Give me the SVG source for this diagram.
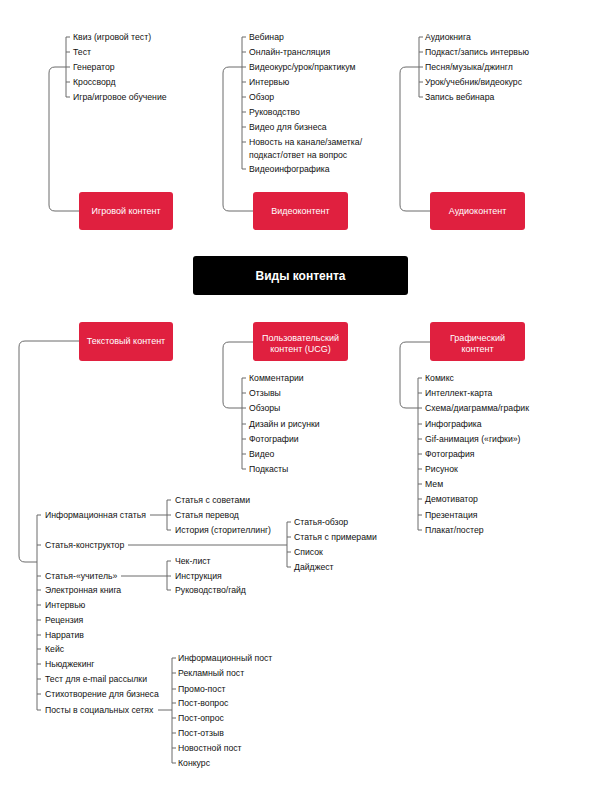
<svg xmlns="http://www.w3.org/2000/svg" width="600" height="795" viewBox="0 0 600 795">
<style>
  .bg{fill:#ffffff}
  .box{fill:#E0203F}
  .root{fill:#000000}
  .bt{font-family:"Liberation Sans",Arial,sans-serif;font-size:9px;fill:#ffffff;text-anchor:middle}
  .rt{font-family:"Liberation Sans",Arial,sans-serif;font-size:12px;font-weight:bold;fill:#ffffff;text-anchor:middle}
  .it{font-family:"Liberation Sans",Arial,sans-serif;font-size:8.7px;fill:#111111}
  .ln{fill:none;stroke:#6b6b6b;stroke-width:1}
</style>
<rect class="bg" x="0" y="0" width="600" height="795"/>

<g id="connectors">
  <path class="ln" d="M79,211 H55 Q49,211 49,205 V73 Q49,67 55,67 H66"/>
  <path class="ln" d="M253,211 H229 Q223,211 223,205 V73 Q223,67 229,67 H242"/>
  <path class="ln" d="M430,211 H406 Q400,211 400,205 V73 Q400,67 406,67 H419"/>
  <path class="ln" d="M79,341 H25 Q19,341 19,347 V556 Q19,562 25,562 H37"/>
  <path class="ln" d="M253,342 H229 Q223,342 223,348 V402 Q223,408 229,408 H242"/>
  <path class="ln" d="M430,342 H406 Q400,342 400,348 V402 Q400,408 406,408 H418"/>
  <path class="ln" d="M150,515 H167"/>
  <path class="ln" d="M128,545 H287"/>
  <path class="ln" d="M121,576 H167"/>
  <path class="ln" d="M158,710 H172"/>
</g>

<g id="root">
  <rect class="root" x="193" y="256" width="215" height="39" rx="3"/>
  <text class="rt" x="300.5" y="280">Виды контента</text>
</g>

<g id="game">
  <rect class="box" x="79" y="192" width="94" height="38" rx="3"/>
  <text class="bt" x="126" y="214">Игровой контент</text>
</g>
<g id="video">
  <rect class="box" x="253" y="192" width="95" height="38" rx="3"/>
  <text class="bt" x="300.5" y="214">Видеоконтент</text>
</g>
<g id="audio">
  <rect class="box" x="430" y="192" width="95" height="38" rx="3"/>
  <text class="bt" x="477.5" y="214">Аудиоконтент</text>
</g>
<g id="text">
  <rect class="box" x="79" y="322" width="94" height="39" rx="3"/>
  <text class="bt" x="126" y="344">Текстовый контент</text>
</g>
<g id="ucg">
  <rect class="box" x="253" y="322" width="95" height="39" rx="3"/>
  <text class="bt" x="300.5" y="341">Пользовательский</text>
  <text class="bt" x="300.5" y="352">контент (UCG)</text>
</g>
<g id="graphic">
  <rect class="box" x="430" y="322" width="95" height="39" rx="3"/>
  <text class="bt" x="477.5" y="341">Графический</text>
  <text class="bt" x="477.5" y="352">контент</text>
</g>

<g id="list-game">
  <path class="ln" d="M70,37 H66 V97 H70 M66,52 H70 M66,67 H70 M66,82 H70"/>
  <text class="it" x="73" y="40">Квиз (игровой тест)</text>
  <text class="it" x="73" y="55">Тест</text>
  <text class="it" x="73" y="70">Генератор</text>
  <text class="it" x="73" y="85">Кроссворд</text>
  <text class="it" x="73" y="100">Игра/игровое обучение</text>
</g>

<g id="list-video">
  <path class="ln" d="M246,37 H242 V169 H246 M242,52 H246 M242,67 H246 M242,82 H246 M242,97 H246 M242,112 H246 M242,127 H246 M242,142 H246"/>
  <text class="it" x="249" y="40">Вебинар</text>
  <text class="it" x="249" y="55">Онлайн-трансляция</text>
  <text class="it" x="249" y="70">Видеокурс/урок/практикум</text>
  <text class="it" x="249" y="85">Интервью</text>
  <text class="it" x="249" y="100">Обзор</text>
  <text class="it" x="249" y="115">Руководство</text>
  <text class="it" x="249" y="130">Видео для бизнеса</text>
  <text class="it" x="249" y="145">Новость на канале/заметка/</text>
  <text class="it" x="249" y="158">подкаст/ответ на вопрос</text>
  <text class="it" x="249" y="172">Видеоинфографика</text>
</g>

<g id="list-audio">
  <path class="ln" d="M423,37 H419 V97 H423 M419,52 H423 M419,67 H423 M419,82 H423"/>
  <text class="it" x="425" y="40">Аудиокнига</text>
  <text class="it" x="425" y="55">Подкаст/запись интервью</text>
  <text class="it" x="425" y="70">Песня/музыка/джингл</text>
  <text class="it" x="425" y="85">Урок/учебник/видеокурс</text>
  <text class="it" x="425" y="100">Запись вебинара</text>
</g>

<g id="list-ucg">
  <path class="ln" d="M246,378 H242 V469 H246 M242,393 H246 M242,408 H246 M242,424 H246 M242,439 H246 M242,454 H246"/>
  <text class="it" x="249" y="381">Комментарии</text>
  <text class="it" x="249" y="396">Отзывы</text>
  <text class="it" x="249" y="411">Обзоры</text>
  <text class="it" x="249" y="427">Дизайн и рисунки</text>
  <text class="it" x="249" y="442">Фотографии</text>
  <text class="it" x="249" y="457">Видео</text>
  <text class="it" x="249" y="472">Подкасты</text>
</g>

<g id="list-graphic">
  <path class="ln" d="M422,378 H418 V530 H422 M418,393 H422 M418,408 H422 M418,424 H422 M418,439 H422 M418,454 H422 M418,469 H422 M418,484 H422 M418,499 H422 M418,515 H422"/>
  <text class="it" x="425" y="381">Комикс</text>
  <text class="it" x="425" y="396">Интеллект-карта</text>
  <text class="it" x="425" y="411">Схема/диаграмма/график</text>
  <text class="it" x="425" y="427">Инфографика</text>
  <text class="it" x="425" y="442">Gif-анимация («гифки»)</text>
  <text class="it" x="425" y="457">Фотография</text>
  <text class="it" x="425" y="472">Рисунок</text>
  <text class="it" x="425" y="487">Мем</text>
  <text class="it" x="425" y="502">Демотиватор</text>
  <text class="it" x="425" y="518">Презентация</text>
  <text class="it" x="425" y="533">Плакат/постер</text>
</g>

<g id="list-text">
  <path class="ln" d="M41,515 H37 V710 H41 M37,545 H41 M37,576 H41 M37,590 H41 M37,605 H41 M37,620 H41 M37,635 H41 M37,649 H41 M37,664 H41 M37,679 H41 M37,694 H41"/>
  <text class="it" x="45" y="518">Информационная статья</text>
  <text class="it" x="45" y="548">Статья-конструктор</text>
  <text class="it" x="45" y="579">Статья-«учитель»</text>
  <text class="it" x="45" y="593">Электронная книга</text>
  <text class="it" x="45" y="608">Интервью</text>
  <text class="it" x="45" y="623">Рецензия</text>
  <text class="it" x="45" y="638">Нарратив</text>
  <text class="it" x="45" y="652">Кейс</text>
  <text class="it" x="45" y="667">Ньюджекинг</text>
  <text class="it" x="45" y="682">Тест для e-mail рассылки</text>
  <text class="it" x="45" y="697">Стихотворение для бизнеса</text>
  <text class="it" x="45" y="713">Посты в социальных сетях</text>
</g>

<g id="list-info">
  <path class="ln" d="M171,500 H167 V530 H171 M167,515 H171"/>
  <text class="it" x="175" y="503">Статья с советами</text>
  <text class="it" x="175" y="518">Статья перевод</text>
  <text class="it" x="175" y="533">История (сторителлинг)</text>
</g>

<g id="list-constructor">
  <path class="ln" d="M291,522 H287 V567 H291 M287,537 H291 M287,552 H291"/>
  <text class="it" x="294" y="525">Статья-обзор</text>
  <text class="it" x="294" y="540">Статья с примерами</text>
  <text class="it" x="294" y="555">Список</text>
  <text class="it" x="294" y="570">Дайджест</text>
</g>

<g id="list-teacher">
  <path class="ln" d="M171,561 H167 V590 H171 M167,576 H171"/>
  <text class="it" x="175" y="564">Чек-лист</text>
  <text class="it" x="175" y="579">Инструкция</text>
  <text class="it" x="175" y="593">Руководство/гайд</text>
</g>

<g id="list-posts">
  <path class="ln" d="M176,658 H172 V763 H176 M172,673 H176 M172,689 H176 M172,703 H176 M172,718 H176 M172,733 H176 M172,748 H176"/>
  <text class="it" x="178" y="661">Информационный пост</text>
  <text class="it" x="178" y="676">Рекламный пост</text>
  <text class="it" x="178" y="692">Промо-пост</text>
  <text class="it" x="178" y="706">Пост-вопрос</text>
  <text class="it" x="178" y="721">Пост-опрос</text>
  <text class="it" x="178" y="736">Пост-отзыв</text>
  <text class="it" x="178" y="751">Новостной пост</text>
  <text class="it" x="178" y="766">Конкурс</text>
</g>
</svg>
